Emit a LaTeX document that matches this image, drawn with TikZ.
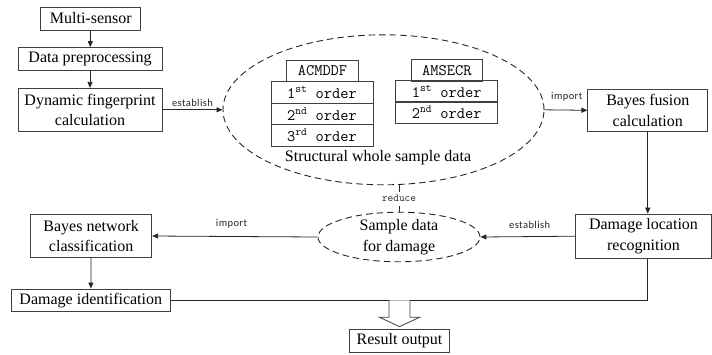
\documentclass[tikz,border=0pt]{standalone}
\usepackage{fontspec}
\setmainfont{Liberation Serif}
\newfontfamily\labelfont[LetterSpace=4]{Carlito}
\usetikzlibrary{arrows.meta,shapes.geometric,calc}

\tikzset{
  line/.style={draw=black!85, line width=0.8pt},
  arr/.style={line, -{Triangle[length=6pt,width=5pt]}},
  procbox/.style={draw=black!75, line width=0.8pt, rectangle, inner sep=0pt,
    font=\fontsize{16}{20.5}\selectfont, align=center},
  tabbox/.style={draw=black!75, line width=0.8pt, rectangle, inner sep=0pt,
    font=\ttfamily\fontsize{16}{18}\selectfont, minimum height=21.5pt},
  dashell/.style={draw=black!85, line width=0.9pt, ellipse, inner sep=0pt,
    dash pattern=on 6.5pt off 4pt},
  edgelabel/.style={font=\labelfont\fontsize{10.5}{12}\selectfont, text=black!85, inner sep=1pt},
  monolabel/.style={font=\ttfamily\fontsize{11}{12}\selectfont, text=black!85, inner sep=1pt}
}

\begin{document}
\begin{tikzpicture}[x=1pt, y=-1pt]
  \useasboundingbox (0,0) rectangle (712,354);

  % left column: acquisition chain
  \node[procbox, minimum width=100pt, minimum height=23pt] (ms) at (90.8,18.5) {Multi-sensor};
  \node[procbox, minimum width=144pt, minimum height=22.5pt] (pre) at (90,58.8) {Data preprocessing};
  \node[procbox, minimum width=144pt, minimum height=43pt] (dyn) at (90,109.8) {Dynamic fingerprint\\calculation};

  % whole sample data set
  \node[dashell, minimum width=321pt, minimum height=150pt] (big) at (383.5,109.8) {};
  \node[font=\fontsize{16}{20}\selectfont] (sw) at (378,158) {Structural whole sample data};

  % ACMDDF table
  \node[tabbox, minimum width=71.6pt] (acm) at (322.5,70.9) {ACMDDF};
  \node[tabbox, minimum width=102pt] (a1) at (322,92.5) {1\textsuperscript{st} order};
  \node[tabbox, minimum width=102pt] (a2) at (322,113.9) {2\textsuperscript{nd} order};
  \node[tabbox, minimum width=102pt] (a3) at (322,135.3) {3\textsuperscript{rd} order};

  % AMSECR table
  \node[tabbox, minimum width=71.7pt] (ams) at (446.8,70.4) {AMSECR};
  \node[tabbox, minimum width=102pt] (b1) at (446.7,91.3) {1\textsuperscript{st} order};
  \node[tabbox, minimum width=102pt] (b2) at (446.7,112.3) {2\textsuperscript{nd} order};

  % right column
  \node[procbox, minimum width=120pt, minimum height=42.7pt] (bf) at (647.8,110.3) {Bayes fusion\\calculation};
  \node[procbox, minimum width=136pt, minimum height=44.3pt] (dl) at (643.5,236.2) {Damage location\\recognition};

  % damage sample set
  \node[dashell, minimum width=162pt, minimum height=49pt, font=\fontsize{16}{20.5}\selectfont, align=center] (sd) at (399,237) {Sample data\\for damage};

  % classification and identification
  \node[procbox, minimum width=121pt, minimum height=43.4pt] (bn) at (91.2,236) {Bayes network\\classification};
  \node[procbox, minimum width=159.7pt, minimum height=22.7pt] (di) at (90.8,300.3) {Damage identification};

  % result
  \node[procbox, minimum width=100pt, minimum height=23pt] (ro) at (399.5,340.5) {Result output};

  % connectors
  \draw[arr] (ms) -- (pre);
  \draw[arr] (pre) -- (dyn);
  \draw[arr] (dyn.east) -- node[edgelabel, above, pos=0.5, yshift=1.5pt] {establish} (big.west);
  \draw[arr] (big.east) -- node[edgelabel, above, pos=0.52, yshift=7pt] {import} (bf.west);
  \coordinate (bfdown) at (bf.south |- dl.north);
  \draw[arr] (bf.south) -- (bfdown);
  \draw[arr] (dl.west) -- node[edgelabel, above, pos=0.48, yshift=6.5pt] {establish} (sd.east);
  \draw[arr] (sd.west) -- node[edgelabel, above, pos=0.52, yshift=6.5pt] {import} (bn.east);
  \draw[arr] (bn) -- (di);
  \coordinate (dlfoot) at (bf.south |- dl.south);
  \draw[line] (di.east) -| (dlfoot);

  % reduction link between the two sample sets
  \coordinate (bigfoot) at (sd.north |- big.south);
  \draw[line, dash pattern=on 6.5pt off 4pt] (bigfoot) -- node[monolabel, fill=white] {reduce} (sd.north);

  % hollow output arrow
  \coordinate (hb) at (di.east -| ro.north);
  \draw[draw=black!75, line width=0.8pt, fill=white]
    ($(hb)+(-10.5,0)$) -- ($(hb)+(-10.5,17)$) -- ($(hb)+(-20,17)$) --
    ($(ro.north)+(0,-2)$) -- ($(hb)+(20,17)$) -- ($(hb)+(10.5,17)$) -- ($(hb)+(10.5,0)$);
\end{tikzpicture}
\end{document}
